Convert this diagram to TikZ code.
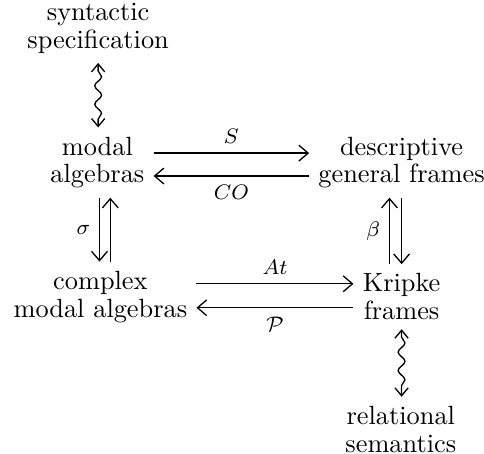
\documentclass[tikz,border=0pt]{standalone}
\usepackage{amsmath,amssymb}
\usepackage{tikz}
\usetikzlibrary{arrows.meta,positioning,decorations.pathmorphing}

\begin{document}
\begin{tikzpicture}[
    obj/.style={align=center,font=\fontsize{10}{10.6}\selectfont},
    map/.style={line width=0.5pt,-{Straight Barb[length=3.5pt,width=6pt]}},
    wave/.style={line width=0.5pt,{Straight Barb[length=3pt,width=5pt]}-{Straight Barb[length=3pt,width=5pt]},
      decorate,decoration={snake,amplitude=1.3pt,segment length=7pt,pre length=3pt,post length=3pt}},
    lab/.style={font=\fontsize{8}{9}\selectfont}]
  \useasboundingbox (0,0) rectangle (6.46,-6.05);
  \node[obj] (syn) at (1.31,-0.38) {syntactic\\specification};
  \node[obj] (ma)  at (1.30,-2.17) {modal\\algebras};
  \node[obj] (dg)  at (5.36,-2.17) {descriptive\\general frames};
  \node[obj] (cma) at (1.34,-3.96) {complex\\modal algebras};
  \node[obj] (kf)  at (5.36,-3.96) {Kripke\\frames};
  \node[obj] (rs)  at (5.35,-5.73) {relational\\semantics};
  % horizontal maps
  \draw[map] ([yshift=3.6pt]ma.east) -- ([yshift=3.6pt]ma.east -| dg.west)
    node[lab,midway,above] {$S$};
  \draw[map] ([yshift=-5.1pt]ma.east -| dg.west) -- ([yshift=-5.1pt]ma.east)
    node[lab,midway,below] {$CO$};
  \draw[map] ([yshift=4.9pt]cma.east) -- ([yshift=4.9pt]cma.east -| kf.west)
    node[lab,midway,above] {$At$};
  \draw[map] ([yshift=-4.2pt]cma.east -| kf.west) -- ([yshift=-4.2pt]cma.east)
    node[lab,midway,below] {$\mathcal{P}$};
  % vertical maps
  \draw[map] ([xshift=0.8pt]ma.south) -- ([xshift=0.8pt]ma.south |- cma.north)
    node[lab,midway,left] {$\sigma$};
  \draw[map] ([xshift=4.9pt]ma.south |- cma.north) -- ([xshift=4.9pt]ma.south);
  \draw[map] ([xshift=-4.6pt]dg.south |- kf.north) -- ([xshift=-4.6pt]dg.south)
    node[lab,midway,left] {$\beta$};
  \draw[map] (dg.south) -- (dg.south |- kf.north);
  % correspondences
  \draw[wave] (syn.south) -- (syn.south |- ma.north);
  \draw[wave] (kf.south) -- (kf.south |- rs.north);
\end{tikzpicture}
\end{document}
